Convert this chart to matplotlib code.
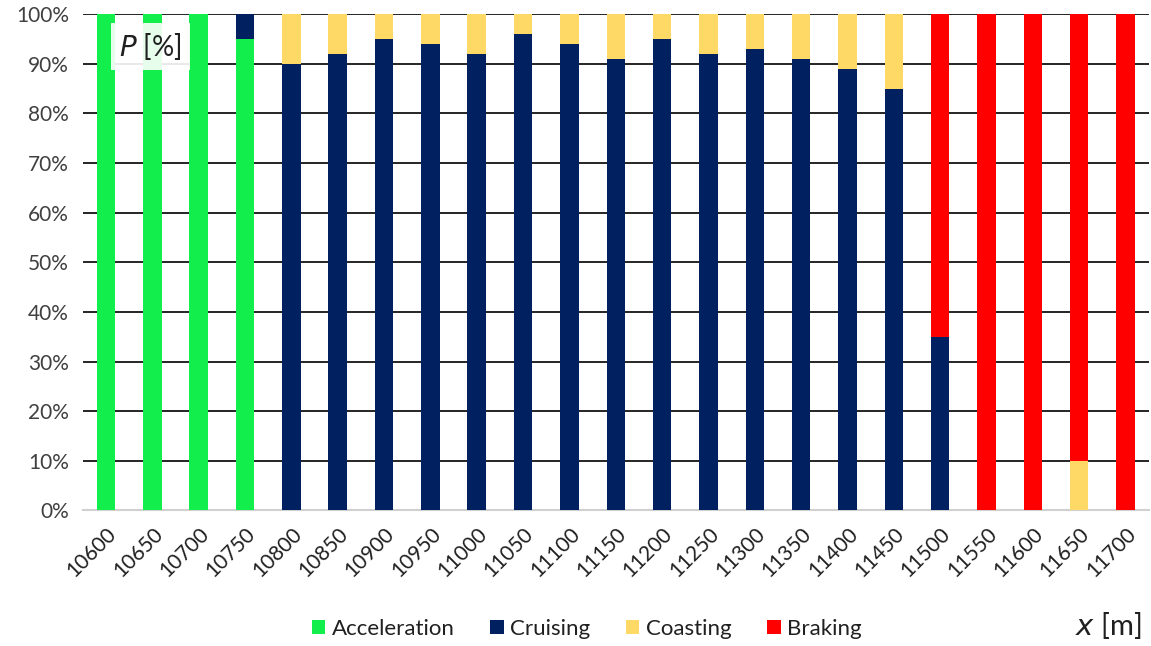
import numpy as np
import matplotlib.pyplot as plt
from matplotlib.ticker import PercentFormatter

plt.rcParams['font.family'] = ['Lato', 'DejaVu Sans']

positions = [10600, 10650, 10700, 10750, 10800, 10850, 10900, 10950, 11000, 11050,
             11100, 11150, 11200, 11250, 11300, 11350, 11400, 11450, 11500, 11550,
             11600, 11650, 11700]
acceleration = [100, 100, 100, 95, 0, 0, 0, 0, 0, 0, 0, 0, 0, 0, 0, 0, 0, 0, 0, 0, 0, 0, 0]
cruising = [0, 0, 0, 5, 90, 92, 95, 94, 92, 96, 94, 91, 95, 92, 93, 91, 89, 85, 35, 0, 0, 0, 0]
coasting = [0, 0, 0, 0, 10, 8, 5, 6, 8, 4, 6, 9, 5, 8, 7, 9, 11, 15, 0, 0, 0, 10, 0]
braking = [0, 0, 0, 0, 0, 0, 0, 0, 0, 0, 0, 0, 0, 0, 0, 0, 0, 0, 65, 100, 100, 90, 100]

series = [
    ('Acceleration', acceleration, '#12ee4b'),
    ('Cruising', cruising, '#002060'),
    ('Coasting', coasting, '#ffd966'),
    ('Braking', braking, '#ff0000'),
]

fig = plt.figure(figsize=(11.51, 6.46), dpi=100)
ax = fig.add_axes([0.072, 0.21, 0.926, 0.768])

x = np.arange(len(positions))
bottom = np.zeros(len(positions))
for label, vals, color in series:
    vals = np.array(vals, dtype=float)
    ax.bar(x, vals, bottom=bottom, width=0.4, color=color, label=label, zorder=3)
    bottom += vals

ax.set_xlim(-0.5, len(positions) - 0.5)
ax.set_ylim(0, 100)
ax.set_yticks(np.arange(0, 101, 10))
ax.yaxis.set_major_formatter(PercentFormatter(decimals=0))
ax.grid(axis='y', color='black', lw=1.2, zorder=0)
for s in ['top', 'right', 'left']:
    ax.spines[s].set_visible(False)
ax.spines['bottom'].set_color('#d0d0d0')
ax.spines['bottom'].set_linewidth(1.5)
ax.tick_params(axis='y', length=0, labelsize=15, colors='#404040', pad=10)
ax.tick_params(axis='x', length=0, labelsize=15, colors='#202020', pad=10)
ax.set_xticks(x)
ax.set_xticklabels([str(p) for p in positions], rotation=45, ha='right',
                   rotation_mode='anchor')

ax.text(0.034, 0.935, r'$P$ [%]', transform=ax.transAxes, fontsize=20, ha='left', va='center',
        color='#202020', zorder=5,
        bbox=dict(facecolor='white', edgecolor='none', alpha=0.9, pad=6))

fig.legend(loc='center', bbox_to_anchor=(0.51, 0.027), ncol=4, frameon=False,
           fontsize=16, handlelength=0.6, handleheight=0.6, handletextpad=0.3,
           columnspacing=1.6, labelcolor='#202020')
fig.text(0.934, 0.032, r'$x$ [m]', fontsize=21, ha='left', va='center', color='#202020')

fig.savefig('out.png', dpi=100)
